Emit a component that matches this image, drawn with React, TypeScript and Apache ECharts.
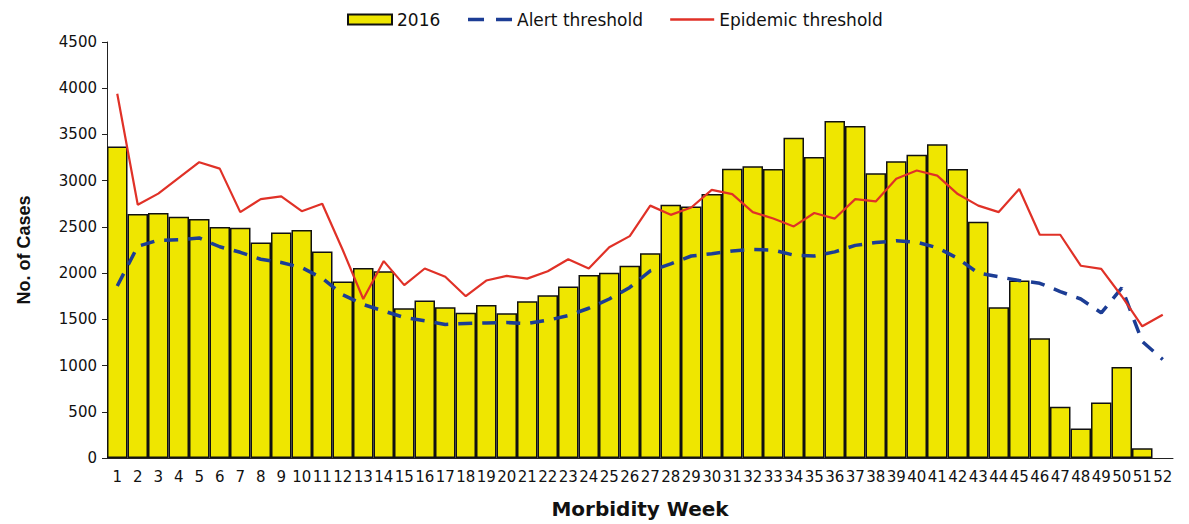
import React, { useEffect, useRef } from "react";
import * as echarts from "echarts";

const weeks: string[] = Array.from({ length: 52 }, (_, i) => String(i + 1));

const cases2016: (number | null)[] = [
  3370, 2640, 2650, 2610, 2585, 2500, 2490, 2330, 2440, 2465,
  2235, 1910, 2055, 2020, 1620, 1705, 1630, 1570, 1655, 1565,
  1695, 1760, 1855, 1980, 2005, 2080, 2215, 2740, 2720, 2855,
  3130, 3155, 3125, 3465, 3255, 3645, 3590, 3080, 3210, 3280,
  3395, 3125, 2555, 1630, 1920, 1295, 555, 320, 600, 985,
  105, null,
];

const alertThreshold: number[] = [
  1860, 2290, 2355, 2360, 2380, 2285, 2225, 2150, 2115, 2060,
  1945, 1765, 1660, 1590, 1520, 1485, 1445, 1455, 1460, 1465,
  1455, 1490, 1540, 1620, 1720, 1845, 2025, 2100, 2185, 2210,
  2240, 2255, 2250, 2195, 2185, 2230, 2300, 2330, 2350, 2335,
  2275, 2160, 2000, 1960, 1920, 1890, 1800, 1720, 1570, 1840,
  1260, 1065,
];

const epidemicThreshold: number[] = [
  3940, 2740, 2860, 3030, 3200, 3130, 2660, 2800, 2830, 2670,
  2750, 2250, 1720, 2130, 1870, 2050, 1960, 1750, 1920, 1970,
  1940, 2020, 2150, 2050, 2280, 2400, 2730, 2630, 2710, 2900,
  2855, 2660, 2590, 2505, 2650, 2590, 2800, 2775, 3020, 3110,
  3055, 2855, 2730, 2660, 2910, 2415, 2415, 2080, 2045, 1750,
  1425, 1550,
];

const seriesNames = ["2016", "Alert threshold", "Epidemic threshold"];

export default function App() {
  const ref = useRef<HTMLDivElement>(null);

  useEffect(() => {
    if (!ref.current) return;
    const chart = echarts.init(ref.current, null, { renderer: "svg" });
    chart.setOption({
      animation: false,
      backgroundColor: "#ffffff",
      legend: {
        left: 342,
        top: 6,
        itemWidth: 44,
        itemHeight: 10,
        itemGap: 26,
        textStyle: { fontFamily: "DejaVu Sans", fontSize: 17, color: "#111" },
        data: [
          { name: seriesNames[0], icon: "rect" },
          {
            name: seriesNames[1],
            itemStyle: { opacity: 0 },
            lineStyle: { width: 3.5, type: [16, 12] },
          },
          {
            name: seriesNames[2],
            itemStyle: { opacity: 0 },
            lineStyle: { width: 2.5 },
          },
        ],
      },
      grid: { left: 107, right: 16, top: 42, bottom: 63, containLabel: false },
      xAxis: {
        type: "category",
        data: weeks,
        boundaryGap: true,
        name: "Morbidity Week",
        nameLocation: "middle",
        nameGap: 41,
        nameTextStyle: {
          fontFamily: "DejaVu Sans",
          fontWeight: "bold",
          fontSize: 20,
          color: "#111",
        },
        axisLine: { lineStyle: { color: "#222", width: 1 } },
        axisTick: { show: false },
        axisLabel: {
          interval: 0,
          margin: 11,
          fontFamily: "DejaVu Sans",
          fontSize: 15,
          color: "#111",
        },
      },
      yAxis: {
        type: "value",
        min: 0,
        max: 4500,
        interval: 500,
        name: "No. of Cases",
        nameLocation: "middle",
        nameGap: 74,
        nameTextStyle: {
          fontFamily: "Liberation Sans",
          fontWeight: "bold",
          fontSize: 18,
          color: "#111",
        },
        splitLine: { show: false },
        axisLine: { show: true, lineStyle: { color: "#222", width: 1 } },
        axisTick: { show: true, length: 5, inside: false, lineStyle: { color: "#222" } },
        axisLabel: {
          margin: 10,
          fontFamily: "DejaVu Sans",
          fontSize: 15,
          color: "#111",
          formatter: (v: number) => String(v),
        },
      },
      series: [
        {
          name: seriesNames[0],
          type: "bar",
          data: cases2016,
          barCategoryGap: "0%",
          itemStyle: { color: "#efe600", borderColor: "#111", borderWidth: 1.5 },
          z: 1,
        },
        {
          name: seriesNames[1],
          type: "line",
          data: alertThreshold,
          symbol: "none",
          itemStyle: { color: "#1c3d95" },
          lineStyle: { color: "#1c3d95", width: 3.5, type: [14, 10] },
          z: 3,
        },
        {
          name: seriesNames[2],
          type: "line",
          data: epidemicThreshold,
          symbol: "none",
          itemStyle: { color: "#e03127" },
          lineStyle: { color: "#e03127", width: 2.2 },
          z: 4,
        },
      ],
    });
    return () => chart.dispose();
  }, []);

  return (
    <div
      ref={ref}
      style={{ position: "fixed", left: 0, top: 0, width: 1189, height: 524 }}
    />
  );
}
